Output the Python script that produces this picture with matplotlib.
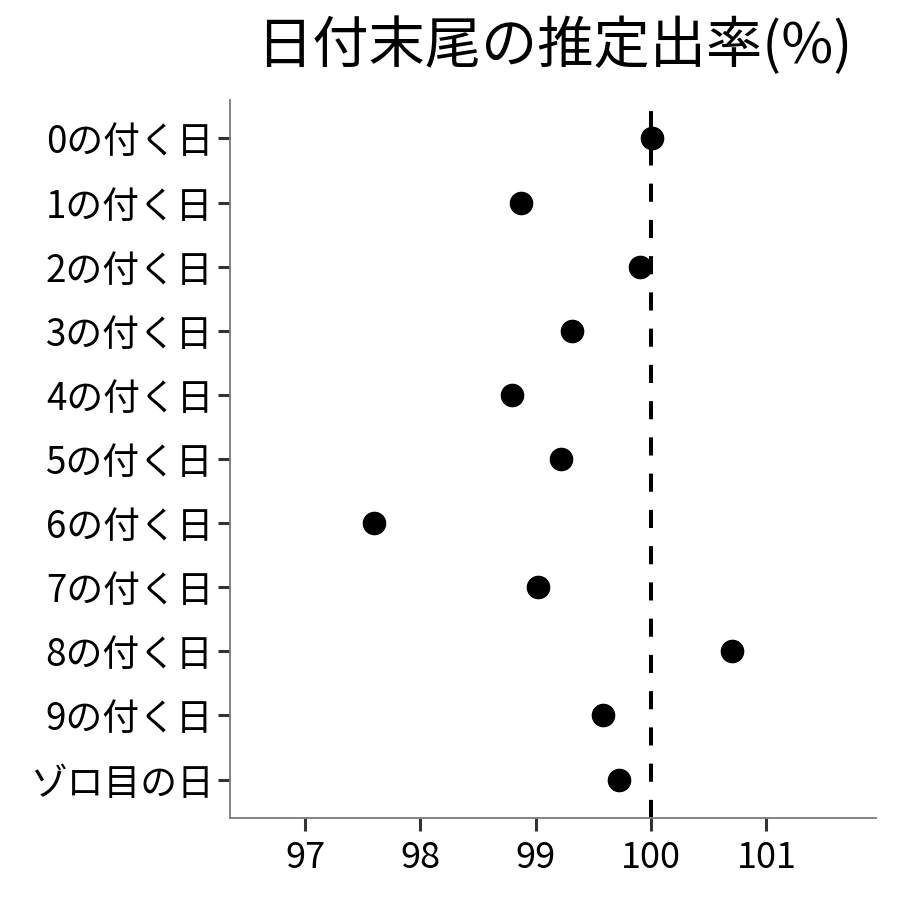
import matplotlib
matplotlib.use("Agg")
import matplotlib.pyplot as plt

plt.rcParams['font.family'] = ['Noto Sans CJK JP', 'DejaVu Sans']

labels = ["0の付く日", "1の付く日", "2の付く日", "3の付く日", "4の付く日",
          "5の付く日", "6の付く日", "7の付く日", "8の付く日", "9の付く日",
          "ゾロ目の日"]
rates = [100.01, 98.87, 99.90, 99.31, 98.79, 99.22, 97.60, 99.02, 100.70, 99.58, 99.72]
xticks = [97, 98, 99, 100, 101]

fig = plt.figure(figsize=(9, 9), dpi=100)
ax = fig.add_axes([0.2556, 0.0911, 0.7178, 0.7978])

ypos = list(range(len(labels)))
ax.axvline(100, color="black", lw=2.9, dashes=(4.5, 4.5), zorder=1)
ax.plot(rates, ypos, "o", color="black", markersize=16, zorder=2)

ax.set_xlim(96.35, 101.95)
ax.set_ylim(len(labels) - 1 + 0.6, -0.6)
ax.set_yticks(ypos)
ax.set_yticklabels(labels)
ax.set_xticks(xticks)
ax.set_xticklabels([str(v) for v in xticks])

for s in ["top", "right"]:
    ax.spines[s].set_visible(False)
for s in ["left", "bottom"]:
    ax.spines[s].set_color("#7a7a7a")
    ax.spines[s].set_linewidth(1.3)

ax.tick_params(axis="both", length=9, width=2.2, color="#333333",
               labelcolor="black")
ax.tick_params(axis="y", labelsize=26.5, pad=3)
ax.tick_params(axis="x", labelsize=26, pad=7)

fig.text(0.6156, 0.948, "日付末尾の推定出率(%)", fontsize=40.5, ha="center", va="center")

fig.savefig("out.png", dpi=100)
